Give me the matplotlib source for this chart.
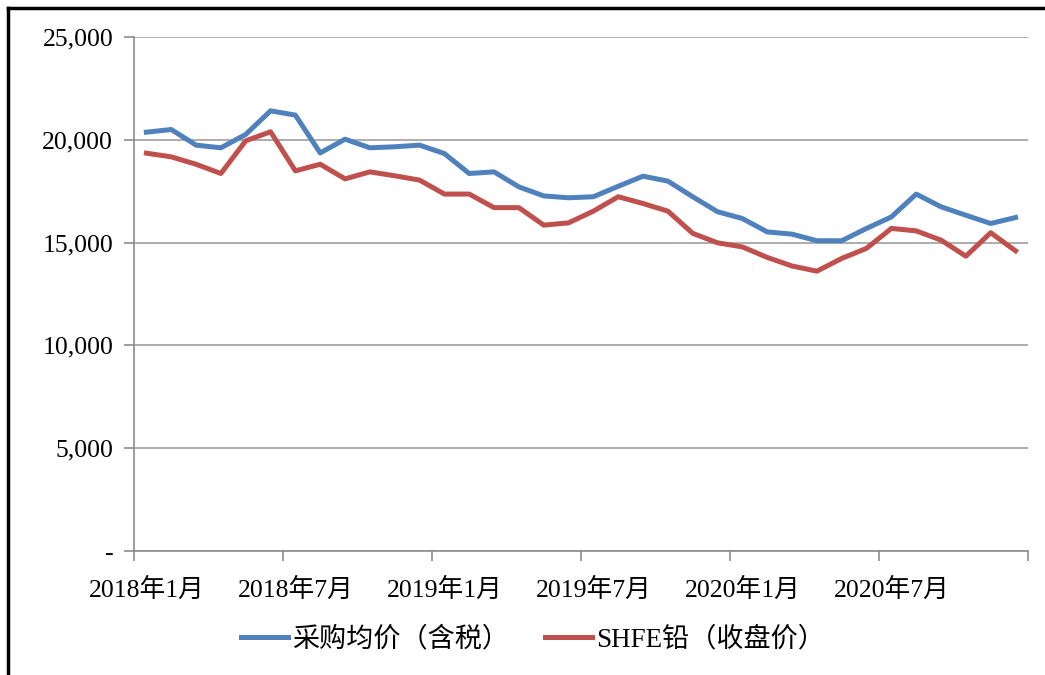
import numpy as np
import matplotlib.pyplot as plt
from matplotlib.lines import Line2D
from matplotlib.ticker import FuncFormatter

plt.rcParams['font.family'] = ['Liberation Serif', 'Noto Sans CJK SC']

# monthly data, 2018-01 .. 2020-12
months = ['2018年1月', '2018年7月', '2019年1月', '2019年7月', '2020年1月', '2020年7月']
purchase_avg = [20370, 20500, 19740, 19610, 20260, 21410, 21200, 19360, 20030, 19610,
                19660, 19740, 19330, 18360, 18440, 17710, 17270, 17180, 17230, 17740,
                18230, 17990, 17230, 16500, 16170, 15520, 15410, 15090, 15090, 15690,
                16250, 17360, 16740, 16330, 15930, 16220]
shfe_close = [19350, 19170, 18810, 18360, 19950, 20390, 18490, 18810, 18100, 18440,
              18250, 18040, 17360, 17360, 16700, 16700, 15850, 15960, 16530, 17230,
              16900, 16530, 15450, 14990, 14790, 14280, 13860, 13610, 14230, 14720,
              15690, 15570, 15120, 14340, 15480, 14600]
series_names = ['采购均价（含税）', 'SHFE铅（收盘价）']

x = np.arange(len(purchase_avg))

fig = plt.figure(figsize=(10.45, 6.75), dpi=100)
ax = fig.add_axes([0.1282, 0.1837, 0.8555, 0.7615])

ax.plot(x, purchase_avg, color='#4F81BD', lw=3.6, label=series_names[0], solid_joinstyle='round')
ax.plot(x, shfe_close, color='#C0504D', lw=3.6, label=series_names[1], solid_joinstyle='round')

ax.set_xlim(-0.5, len(x) - 0.5)
ax.set_ylim(0, 25000)
ax.set_yticks(np.arange(0, 25001, 5000))
ax.yaxis.set_major_formatter(FuncFormatter(lambda v, p: '-' if v == 0 else f'{int(v):,}'))
ax.grid(axis='y', color='#a6a6a6', lw=1.3)
ax.set_axisbelow(True)

ax.set_xticks(np.arange(0, len(x), 6))
ax.set_xticklabels(months)
ax.set_xticks(np.arange(-0.5, len(x), 6), minor=True)
ax.tick_params(axis='x', which='major', length=0, pad=19, labelsize=18.5)
ax.tick_params(axis='x', which='minor', length=7, color='#8c8c8c', width=1.2)
ax.tick_params(axis='y', length=7, color='#8c8c8c', width=1.2, pad=8, labelsize=18.5)

for s in ['top', 'right']:
    ax.spines[s].set_visible(False)
for s in ['left', 'bottom']:
    ax.spines[s].set_color('#8c8c8c')
    ax.spines[s].set_linewidth(1.2)

fig.legend(loc='center', bbox_to_anchor=(0.51, 0.052), ncol=2, frameon=False,
           fontsize=19.5, handlelength=1.75, handletextpad=0.15, columnspacing=1.3)

# outer frame (top and left visible)
fig.add_artist(Line2D([0.0077, 1.0], [0.9886, 0.9886], color='black', lw=2.5))
fig.add_artist(Line2D([0.0077, 0.0077], [0.0, 0.9886], color='black', lw=2.5))

fig.savefig('out.png', dpi=100)
